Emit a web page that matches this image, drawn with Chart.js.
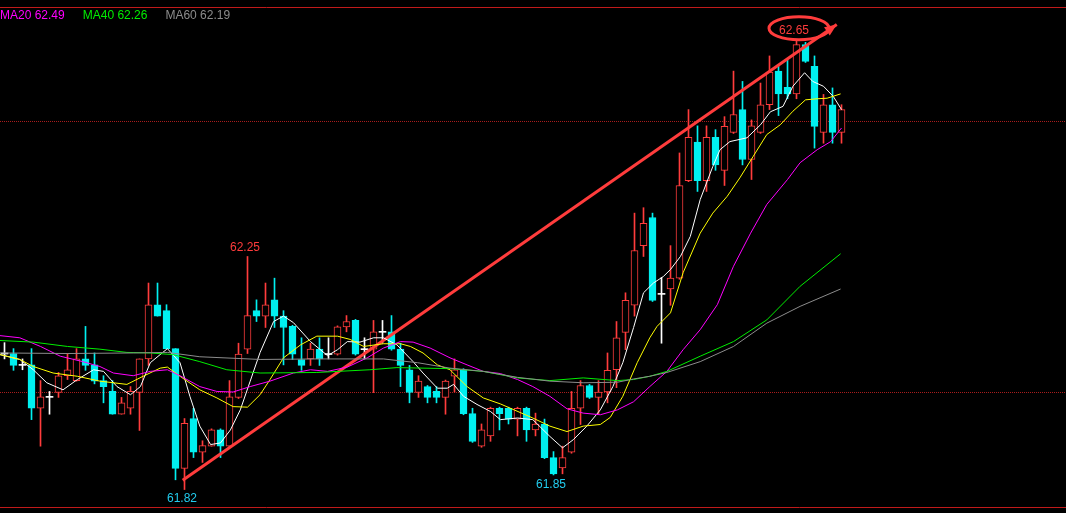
<!DOCTYPE html>
<html>
<head>
<meta charset="utf-8">
<script src="https://cdn.jsdelivr.net/npm/chart.js@4.4.0/dist/chart.umd.min.js"></script>
<style>
  html, body { margin: 0; padding: 0; background: #000; }
  #wrap { width: 1066px; height: 513px; position: relative; }
</style>
</head>
<body>
<div id="wrap"><canvas id="kline"></canvas></div>
<script>
// daily candles, oldest first
const opens  = [62.071,62.071,62.050,62.050,61.970,61.991,61.999,62.030,62.021,62.061,
                62.050,62.021,62.001,61.959,61.970,61.999,62.061,62.161,62.150,62.080,
                61.859,61.951,61.889,61.900,61.930,61.900,61.990,62.079,62.150,62.140,
                62.170,62.140,62.121,62.060,62.061,62.079,62.070,62.070,62.120,62.132,
                62.079,62.079,62.111,62.111,62.079,62.041,61.999,62.010,62.001,61.990,
                62.029,62.041,61.960,61.900,61.919,61.970,61.970,61.950,61.970,61.930,
                61.941,61.879,61.860,61.889,61.970,62.012,61.990,62.000,62.041,62.110,
                62.160,62.270,62.322,62.181,62.190,62.210,62.390,62.461,62.390,62.470,
                62.409,62.479,62.521,62.429,62.479,62.530,62.592,62.562,62.550,62.641,
                62.601,62.479,62.530,62.479];
const highs  = [62.091,62.080,62.061,62.080,62.021,62.001,62.036,62.071,62.080,62.121,
                62.072,62.030,62.021,61.990,62.010,62.061,62.201,62.201,62.161,62.080,
                61.951,61.970,61.910,61.932,61.932,62.021,62.090,62.250,62.170,62.201,
                62.210,62.150,62.123,62.100,62.090,62.100,62.100,62.122,62.141,62.134,
                62.100,62.132,62.132,62.141,62.090,62.049,62.030,62.012,62.010,62.022,
                62.061,62.043,61.970,61.941,61.972,61.972,61.972,61.972,61.972,61.961,
                61.950,61.890,61.900,62.001,62.021,62.014,62.021,62.072,62.130,62.183,
                62.330,62.340,62.330,62.211,62.270,62.441,62.521,62.491,62.491,62.484,
                62.508,62.592,62.573,62.502,62.570,62.620,62.604,62.613,62.650,62.645,
                62.620,62.549,62.561,62.530];
const lows   = [62.061,62.040,62.041,61.949,61.900,61.959,61.990,62.023,62.020,62.040,
                62.015,61.980,61.959,61.959,61.959,61.929,62.049,62.140,62.080,61.838,
                61.820,61.879,61.870,61.900,61.879,61.898,61.988,62.071,62.130,62.119,
                62.119,62.050,62.060,62.040,62.049,62.049,62.061,62.068,62.111,62.068,
                62.061,61.999,62.090,62.077,62.010,61.980,61.990,61.980,61.980,61.959,
                62.000,61.958,61.907,61.898,61.909,61.930,61.941,61.919,61.909,61.919,
                61.877,61.847,61.849,61.887,61.940,61.988,61.960,61.980,62.008,62.078,
                62.140,62.250,62.167,62.090,62.160,62.208,62.388,62.370,62.370,62.409,
                62.381,62.477,62.419,62.392,62.477,62.521,62.510,62.541,62.541,62.608,
                62.450,62.459,62.459,62.459];
const closes = [62.071,62.049,62.050,61.970,61.991,61.991,62.030,62.041,62.061,62.049,
                62.020,62.010,61.959,61.980,62.001,62.061,62.161,62.140,62.080,61.859,
                61.942,61.889,61.901,61.930,61.900,61.991,62.070,62.141,62.140,62.161,
                62.140,62.119,62.070,62.049,62.079,62.061,62.070,62.120,62.130,62.070,
                62.079,62.111,62.111,62.079,62.049,61.999,62.020,61.990,61.990,62.020,
                62.041,61.960,61.909,61.930,61.970,61.960,61.950,61.970,61.930,61.941,
                61.879,61.849,61.879,61.970,62.012,61.990,62.000,62.040,62.100,62.169,
                62.261,62.311,62.169,62.181,62.210,62.381,62.470,62.390,62.470,62.419,
                62.490,62.512,62.429,62.491,62.530,62.590,62.550,62.550,62.641,62.610,
                62.490,62.530,62.479,62.521];

// moving averages (candle position, value)
const ma5Idx = [-0.5,1.7,3.2,4.7,6.5,8.1,9.9,11.0,12.5,14.0,15.1,16.2,18.1,19.5,20.6,21.7,22.9,24.0,25.1,26.2,
                27.3,28.4,29.9,31.0,32.1,34.0,35.9,37.0,38.1,39.5,41.0,42.1,43.6,45.4,46.5,48.1,49.2,49.9,51.0,52.5,
                54.0,55.1,57.0,58.7,60.6,62.0,63.2,64.7,66.2,67.6,68.7,69.9,71.0,72.1,73.2,74.0,75.1,76.2,77.3,78.7,
                79.5,80.6,82.5,84.0,85.1,86.5,87.6,88.9,89.8,91.0,92.1,93.0];
const ma5Val = [62.069,62.060,62.041,62.017,62.004,62.023,62.041,62.038,62.010,61.995,62.010,62.054,62.080,62.054,61.992,61.937,61.903,61.906,61.930,61.967,
                62.020,62.073,62.130,62.140,62.128,62.093,62.067,62.078,62.093,62.092,62.100,62.100,62.087,62.056,62.035,62.007,62.007,62.014,61.992,61.977,
                61.964,61.949,61.952,61.949,61.918,61.897,61.912,61.937,61.967,62.010,62.054,62.119,62.183,62.201,62.213,62.226,62.250,62.287,62.355,62.416,
                62.447,62.462,62.469,62.493,62.517,62.527,62.564,62.589,62.573,62.564,62.545,62.521];

const ma10Idx = [-0.5,1.7,3.2,5.4,8.1,10.6,13.6,15.4,17.3,18.1,19.5,21.7,23.6,25.4,27.0,28.4,29.5,31.0,32.9,34.7,
                 37.0,38.4,39.9,42.1,44.0,45.1,46.5,48.1,49.5,51.4,53.2,55.1,58.7,60.6,62.5,64.3,66.2,67.3,68.7,70.3,
                 71.7,72.5,74.0,75.4,77.3,78.7,80.3,81.7,83.2,84.7,86.2,87.6,89.0,90.3,91.4,92.9];
const ma10Val = [62.069,62.060,62.047,62.035,62.029,62.020,62.014,62.029,62.044,62.046,62.029,62.004,61.989,61.973,61.972,61.995,62.023,62.063,62.087,62.103,
                 62.103,62.097,62.084,62.089,62.089,62.084,62.072,62.050,62.041,62.010,61.989,61.978,61.952,61.937,61.927,61.937,61.940,61.953,61.992,62.054,
                 62.100,62.121,62.146,62.220,62.293,62.330,62.361,62.395,62.435,62.475,62.493,62.518,62.539,62.541,62.542,62.550];

const ma20Idx = [-0.5,1.7,4.0,6.2,8.7,10.6,12.1,14.3,16.2,18.1,19.5,21.7,23.6,25.4,27.3,29.5,32.1,34.0,35.9,38.1,
                 40.3,42.1,44.0,45.4,47.3,49.5,51.4,53.2,55.1,57.0,58.7,60.6,62.5,64.3,66.2,68.1,69.9,71.7,73.6,75.4,
                 77.3,79.2,81.0,82.9,84.7,87.0,88.4,90.3,91.8,93.0];
const ma20Val = [62.104,62.100,62.084,62.066,62.056,62.047,62.035,62.030,62.038,62.041,62.030,62.010,62.001,62.000,62.010,62.020,62.035,62.041,62.038,62.046,
                 62.063,62.081,62.093,62.092,62.081,62.063,62.050,62.038,62.034,62.023,62.010,61.992,61.969,61.961,61.958,61.967,61.982,62.010,62.038,62.078,
                 62.115,62.161,62.232,62.293,62.346,62.392,62.423,62.447,62.462,62.487];

const ma40Idx = [-0.5,3.2,7.0,10.6,13.6,16.2,18.7,21.7,24.7,28.4,34.7,40.6,43.6,49.5,53.2,57.0,60.6,64.3,68.1,69.9,
                 71.7,73.6,77.3,81.0,84.7,88.4,92.9];
const ma40Val = [62.095,62.092,62.084,62.079,62.073,62.072,62.069,62.056,62.041,62.035,62.036,62.041,62.045,62.043,62.038,62.026,62.021,62.026,62.021,62.023,
                 62.029,62.038,62.066,62.093,62.133,62.195,62.255];

const ma60Idx = [-0.5,7.0,14.3,18.1,21.7,28.4,34.7,42.1,45.9,49.5,53.2,57.0,60.6,64.3,68.1,69.9,71.7,73.6,77.3,81.0,
                 84.7,88.4,92.9];
const ma60Val = [62.072,62.071,62.072,62.073,62.065,62.060,62.061,62.061,62.054,62.044,62.038,62.027,62.020,62.017,62.018,62.024,62.029,62.036,62.056,62.084,
                 62.127,62.158,62.190];

const legendNames = ['MA20', 'MA40', 'MA60'];
const legendVals  = ['62.49', '62.26', '62.19'];
const legendColors = ['#ff00ff', '#00ee00', '#8c8c8c'];

// marked extremes
const markIdx  = [27, 20, 61, 88];
const markText = ['62.25', '61.82', '61.85', '62.65'];
const markSide = ['high', 'low', 'low', 'high'];

// drawn trend line
const trendIdx   = [19.8, 92.47];
const trendPrice = [61.837, 62.678];

const gridPrices = [62.0, 62.5];

const UP = '#ff3c3c', DOWN = '#00f0f0', FLAT = '#ffffff';

function pairs(xs, ys) { return xs.map((x, i) => ({ x: x, y: ys[i] })); }
function candleColor(i) {
  if (closes[i] > opens[i]) return UP;
  if (closes[i] < opens[i]) return DOWN;
  return FLAT;
}

const idx = opens.map((_, i) => i);
const wickData = idx.map(i => ({ x: i, y: [lows[i], highs[i]] }));
const bodyData = idx.map(i => {
  let a = opens[i], b = closes[i];
  if (a === b) { a -= 0.0009; b += 0.0009; }
  return { x: i, y: [a, b] };
});
const colors = idx.map(candleColor);
const bodyFill = idx.map(i => closes[i] > opens[i] ? '#000000' : colors[i]);
const bodyBorder = idx.map(i => closes[i] === opens[i] ? 0 : 1);

const overlay = {
  id: 'overlay',
  beforeDraw(chart) {
    const ctx = chart.ctx;
    ctx.save();
    ctx.fillStyle = '#000';
    ctx.fillRect(0, 0, chart.width, chart.height);
    ctx.restore();
  },
  beforeDatasetsDraw(chart) {
    const { ctx, chartArea, scales } = chart;
    ctx.save();
    ctx.strokeStyle = '#a81c1c';
    ctx.lineWidth = 1;
    ctx.setLineDash([1, 1]);
    gridPrices.forEach(p => {
      const y = Math.round(scales.y.getPixelForValue(p)) + 0.5;
      ctx.beginPath();
      ctx.moveTo(chartArea.left, y);
      ctx.lineTo(chartArea.right, y);
      ctx.stroke();
    });
    ctx.setLineDash([]);
    ctx.strokeStyle = '#c01a1a';
    [chartArea.top, chartArea.bottom].forEach(yy => {
      const y = Math.round(yy) + 0.5;
      ctx.beginPath();
      ctx.moveTo(0, y);
      ctx.lineTo(chart.width, y);
      ctx.stroke();
    });
    ctx.restore();
  },
  afterDatasetsDraw(chart) {
    const { ctx, scales } = chart;
    ctx.save();

    // legend
    ctx.font = "12px 'Liberation Sans', Arial, sans-serif";
    ctx.textBaseline = 'middle';
    ctx.textAlign = 'left';
    let lx = 0;
    legendNames.forEach((n, i) => {
      const t = n + ' ' + legendVals[i];
      ctx.fillStyle = legendColors[i];
      ctx.fillText(t, lx, 16);
      lx += ctx.measureText(t).width + 18;
    });

    // arrow head on the trend line
    const tm = chart.getDatasetMeta(chart.data.datasets.findIndex(d => d.label === 'trend'));
    const p0 = tm.data[0], p1 = tm.data[1];
    const ang = Math.atan2(p1.y - p0.y, p1.x - p0.x);
    ctx.fillStyle = UP;
    ctx.beginPath();
    ctx.moveTo(p1.x, p1.y);
    ctx.lineTo(p1.x - 12 * Math.cos(ang) + 5 * Math.sin(ang), p1.y - 12 * Math.sin(ang) - 5 * Math.cos(ang));
    ctx.lineTo(p1.x - 12 * Math.cos(ang) - 5 * Math.sin(ang), p1.y - 12 * Math.sin(ang) + 5 * Math.cos(ang));
    ctx.closePath();
    ctx.fill();

    // extreme labels
    ctx.textAlign = 'center';
    markIdx.forEach((c, i) => {
      const x = scales.x.getPixelForValue(c) - 2.5;
      if (markSide[i] === 'high') {
        const y = scales.y.getPixelForValue(highs[c]) - 9;
        ctx.fillStyle = UP;
        ctx.fillText(markText[i], x, y);
        if (markText[i] === '62.65') {
          ctx.strokeStyle = UP;
          ctx.lineWidth = 3;
          ctx.beginPath();
          ctx.ellipse(x + 5, y - 2.5, 30, 11.5, 0, 0, Math.PI * 2);
          ctx.stroke();
        }
      } else {
        const y = scales.y.getPixelForValue(lows[c]) + 9.5;
        ctx.fillStyle = '#22ccee';
        ctx.fillText(markText[i], x, y);
      }
    });
    ctx.restore();
  }
};

function maSet(label, xs, ys, color) {
  return {
    type: 'line', label: label, data: pairs(xs, ys),
    borderColor: color, borderWidth: 1, pointRadius: 0, tension: 0,
    fill: false, order: 0
  };
}

new Chart(document.getElementById('kline'), {
  type: 'bar',
  data: {
    datasets: [
      { label: 'wick', data: wickData, backgroundColor: colors, borderWidth: 0,
        barThickness: 1, grouped: false, order: 3 },
      { label: 'body', data: bodyData, backgroundColor: bodyFill, borderColor: colors,
        borderWidth: bodyBorder, borderSkipped: false, barThickness: 7, grouped: false, order: 2 },
      maSet('MA60', ma60Idx, ma60Val, '#8c8c8c'),
      maSet('MA40', ma40Idx, ma40Val, '#00ee00'),
      maSet('MA20', ma20Idx, ma20Val, '#ff00ff'),
      maSet('MA10', ma10Idx, ma10Val, '#ffff00'),
      maSet('MA5', ma5Idx, ma5Val, '#ffffff'),
      { type: 'line', label: 'trend', data: pairs(trendIdx, trendPrice),
        borderColor: UP, borderWidth: 3, pointRadius: 0, fill: false, order: 1 }
    ]
  },
  options: {
    responsive: true,
    maintainAspectRatio: false,
    devicePixelRatio: 1,
    animation: false,
    layout: { padding: { top: 7, bottom: 6, left: 0, right: 0 } },
    plugins: { legend: { display: false }, tooltip: { enabled: false } },
    scales: {
      x: { type: 'linear', min: -0.5, max: 117.944, offset: false, display: false },
      y: { min: 61.7878, max: 62.7103, display: false }
    }
  },
  plugins: [overlay]
});
</script>
</body>
</html>
